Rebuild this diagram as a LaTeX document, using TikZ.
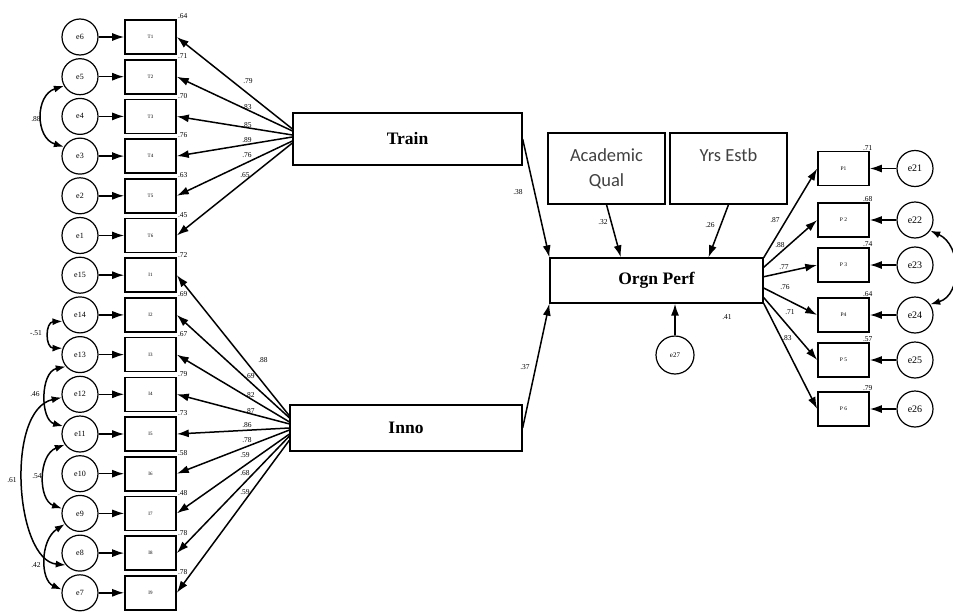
\documentclass[tikz,border=0pt]{standalone}
\usepackage{fontspec}
\setmainfont{Liberation Serif}
\newfontfamily\calib{Carlito}
\usetikzlibrary{arrows.meta}
\begin{document}
\begin{tikzpicture}[x=1pt,y=-1pt,
  errc/.style={circle,draw,line width=1.2pt,minimum size=36pt,inner sep=0pt,font=\fontsize{8}{9}\selectfont},
  errr/.style={errc,font=\fontsize{10}{11}\selectfont},
  obs/.style={rectangle,draw,line width=1.6pt,minimum width=51pt,minimum height=34pt,inner sep=0pt,font=\fontsize{5}{6}\selectfont},
  lat/.style={rectangle,draw,line width=1.3pt,inner sep=0pt,font=\fontsize{17.5}{20}\selectfont\bfseries},
  cov/.style={rectangle,draw,line width=1.3pt,inner sep=0pt,align=center,minimum width=117pt,minimum height=71pt,font=\calib\fontsize{18.5}{25}\selectfont,text=black!75},
  pth/.style={line width=1.5pt,-{Latex[length=12pt,width=8pt]}},
  bip/.style={line width=1.5pt,{Latex[length=10pt,width=7pt]}-{Latex[length=10pt,width=7pt]}},
  num/.style={font=\fontsize{7.5}{8}\selectfont,inner sep=0pt},
]
\useasboundingbox (0,0) rectangle (953,613);

% left indicators
\foreach \i/\en/\vn/\rs in {0/e6/T1/.64, 1/e5/T2/.71, 2/e4/T3/.70, 3/e3/T4/.76, 4/e2/T5/.63, 5/e1/T6/.45, 6/e15/I1/.72, 7/e14/I2/.69, 8/e13/I3/.67, 9/e12/I4/.79, 10/e11/I5/.73, 11/e10/I6/.58, 12/e9/I7/.48, 13/e8/I8/.78, 14/e7/I9/.78}{
  \node[errc] (\en) at (80,37+39.7*\i) {\en};
  \node[obs] (\vn) at (150.5,37+39.7*\i) {\vn};
  \node[num,anchor=south] at ([xshift=6pt]\vn.north east) {\rs};
  \draw[pth] (\en) -- (\vn);
}

% latent variables
\node[lat,minimum width=229pt,minimum height=52pt] (Train) at (407.5,139) {Train};
\node[lat,minimum width=232pt,minimum height=46pt] (Inno) at (406,428) {Inno};
\node[lat,minimum width=213pt,minimum height=45pt] (Orgn) at (656.5,280.5) {Orgn Perf};
\node[cov] (AQ) at (606.5,168.5) {Academic\\Qual};
\node[cov] (YE) at (728.5,168.5) {Yrs Estb\\\phantom{Qual}};
\node[errc,minimum size=38pt,font=\fontsize{7}{8}\selectfont] (e27) at (675,355) {e27};

% Train loadings
\draw[pth] (Train.175) -- (T1.east);
\draw[pth] (Train.176.5) -- (T2.east);
\draw[pth] (Train.178) -- (T3.east);
\draw[pth] (Train.179.5) -- (T4.east);
\draw[pth] (Train.181) -- (T5.east);
\draw[pth] (Train.182.5) -- (T6.east);
\node[num] at (248,81) {.79};
\node[num] at (247,107) {.83};
\node[num] at (247,125) {.85};
\node[num] at (247,140) {.89};
\node[num] at (247,155) {.76};
\node[num] at (245,175) {.65};

% Inno loadings
\draw[pth] (Inno.174) -- (I1.east);
\draw[pth] (Inno.175.5) -- (I2.east);
\draw[pth] (Inno.177) -- (I3.east);
\draw[pth] (Inno.178.5) -- (I4.east);
\draw[pth] (Inno.180) -- (I5.east);
\draw[pth] (Inno.181.5) -- (I6.east);
\draw[pth] (Inno.183) -- (I7.east);
\draw[pth] (Inno.184.5) -- (I8.east);
\draw[pth] (Inno.186) -- (I9.east);
\node[num] at (263,360) {.88};
\node[num] at (250,376) {.69};
\node[num] at (250,395) {.82};
\node[num] at (250,411) {.87};
\node[num] at (247,425) {.86};
\node[num] at (247,440) {.78};
\node[num] at (245,455) {.59};
\node[num] at (245,473) {.68};
\node[num] at (245,492) {.59};

% structural paths
\draw[pth] (Train.east) -- (Orgn.north west);
\draw[pth] (Inno.east) -- (Orgn.south west);
\draw[pth] (AQ.south) -- (Orgn.147);
\draw[pth] (YE.south) -- (Orgn.24);
\draw[pth] (e27.north) -- (e27.north |- Orgn.south);
\node[num] at (518,192) {.38};
\node[num] at (525,367) {.37};
\node[num] at (603,222) {.32};
\node[num] at (710,225) {.26};
\node[num] at (727,317) {.41};

% right indicators
\foreach \pn/\pl/\en/\y/\rs/\a in {P1/P1/e21/168.5/.71/12, P2/P 2/e22/220/.68/7, P3/P 3/e23/265/.74/2, P4/P4/e24/315/.64/-4, P5/P 5/e25/360/.57/-9, P6/P 6/e26/409/.79/-12}{
  \node[obs,font=\fontsize{5.5}{6}\selectfont] (\pn) at (843.5,\y) {\pl};
  \node[errr] (\en) at (915,\y) {\en};
  \node[num,anchor=south] at ([xshift=-2pt]\pn.north east) {\rs};
  \draw[pth] (\en) -- (\pn);
  \draw[pth] (Orgn.\a) -- (\pn.west);
}
\node[num] at (775,220) {.87};
\node[num] at (780,245) {.88};
\node[num] at (784,267) {.77};
\node[num] at (785,287) {.76};
\node[num] at (790,312) {.71};
\node[num] at (787,338) {.83};

% covariances
\draw[bip] (e22.-35) .. controls (962,245) and (962,295) .. (e24.35);
\draw[bip] (e5.210) .. controls (35,95) and (35,138) .. (e3.150);
\node[num] at (36,119) {.88};
\draw[bip] (e14.200) .. controls (45,322) and (45,348) .. (e13.160);
\node[num] at (36,333) {-.51};
\draw[bip] (e13.220) .. controls (40,372) and (40,420) .. (e11.155);
\node[num] at (35,394) {.46};
\draw[bip] (e12.190) .. controls (5,410) and (15,560) .. (e8.220);
\node[num] at (12,480) {.61};
\draw[bip] (e11.215) .. controls (38,455) and (38,500) .. (e9.165);
\node[num] at (37,476) {.54};
\draw[bip] (e9.215) .. controls (40,540) and (40,580) .. (e7.170);
\node[num] at (36,565) {.42};
\end{tikzpicture}
\end{document}
